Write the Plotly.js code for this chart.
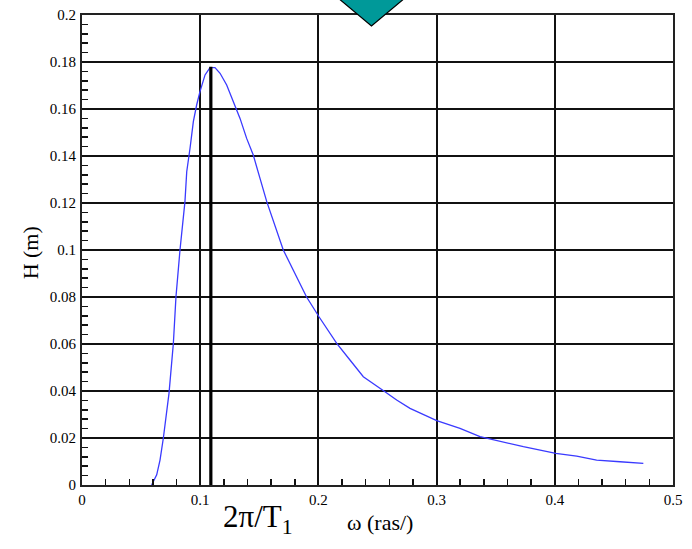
<!DOCTYPE html>
<html>
<head>
<meta charset="utf-8">
<script src="https://cdn.plot.ly/plotly-3.0.1.min.js"></script>
<style>
html,body{margin:0;padding:0;background:#fff;}
#chart{width:692px;height:549px;}
</style>
</head>
<body>
<div id="chart"></div>
<script>
// Spectrum curve H(omega)
const omega = [0.0589, 0.0632, 0.066, 0.0688, 0.0736, 0.0773, 0.0795, 0.0829, 0.0871, 0.0886,
  0.0914, 0.0942, 0.097, 0.0998, 0.1041, 0.1083, 0.1125, 0.1168, 0.1224, 0.128, 0.1337,
  0.1393, 0.1449, 0.1506, 0.1563, 0.1703, 0.1802, 0.19, 0.2005, 0.2155, 0.2267, 0.238,
  0.2563, 0.2662, 0.2775, 0.3001, 0.3198, 0.3367, 0.3734, 0.4008, 0.4185, 0.4354, 0.4552,
  0.4749];
const H = [0, 0.0043, 0.0106, 0.0199, 0.039, 0.0603, 0.0801, 0.1, 0.1206, 0.1333,
  0.1433, 0.1546, 0.1617, 0.1674, 0.1745, 0.1776, 0.1776, 0.1752, 0.1702, 0.1631, 0.156,
  0.1475, 0.1404, 0.1305, 0.1206, 0.1, 0.0901, 0.08, 0.0716, 0.0603, 0.0532, 0.0461,
  0.0397, 0.0362, 0.0326, 0.0274, 0.0241, 0.0206, 0.0163, 0.0135, 0.0123, 0.0106, 0.0099,
  0.0092];

// Peak marker line at 2*pi/T1
const peakX = [0.109, 0.109];
const peakY = [0, 0.178];

// Tick labels
const xTickVals = [0, 0.1, 0.2, 0.3, 0.4, 0.5];
const xTickText = ['0', '0.1', '0.2', '0.3', '0.4', '0.5'];
const yTickVals = [0, 0.02, 0.04, 0.06, 0.08, 0.1, 0.12, 0.14, 0.16, 0.18, 0.2];
const yTickText = ['0', '0.02', '0.04', '0.06', '0.08', '0.1', '0.12', '0.14', '0.16', '0.18', '0.2'];

const serif = '"Liberation Serif", "Times New Roman", serif';

const traces = [
  {
    x: omega, y: H, type: 'scatter', mode: 'lines',
    line: {color: '#3a3aff', width: 1.3, shape: 'linear'},
    hoverinfo: 'skip', showlegend: false
  },
  {
    x: peakX, y: peakY, type: 'scatter', mode: 'lines',
    line: {color: '#000', width: 3.2},
    hoverinfo: 'skip', showlegend: false
  }
];

const layout = {
  width: 692, height: 549,
  margin: {l: 82, r: 19, t: 15, b: 64},
  paper_bgcolor: '#fff', plot_bgcolor: '#fff',
  showlegend: false,
  font: {family: serif, size: 15, color: '#000'},
  xaxis: {
    range: [0, 0.5], tickmode: 'array', tickvals: xTickVals, ticktext: xTickText,
    showgrid: true, gridcolor: '#111', gridwidth: 2,
    zeroline: false, showline: true, linecolor: '#222', linewidth: 2, mirror: true,
    ticks: 'inside', ticklen: 6, tickcolor: '#111', tickwidth: 1.5,
    minor: {dtick: 0.02, tick0: 0, ticks: 'inside', ticklen: 6, tickcolor: '#111', tickwidth: 1.5, showgrid: false},
    tickfont: {family: serif, size: 15, color: '#000'},
    ticklabelstandoff: 0
  },
  yaxis: {
    range: [0, 0.2], tickmode: 'array', tickvals: yTickVals, ticktext: yTickText,
    showgrid: true, gridcolor: '#111', gridwidth: 2,
    zeroline: false, showline: true, linecolor: '#222', linewidth: 2, mirror: true,
    ticks: 'inside', ticklen: 6, tickcolor: '#111', tickwidth: 1.5,
    minor: {dtick: 0.004, tick0: 0, ticks: 'inside', ticklen: 6, tickcolor: '#111', tickwidth: 1.5, showgrid: false},
    tickfont: {family: serif, size: 15, color: '#000'},
    ticklabelstandoff: 1
  },
  annotations: [
    {
      text: 'H (m)', xref: 'paper', yref: 'paper', x: -0.088, y: 0.495,
      xanchor: 'center', yanchor: 'middle', textangle: -90, showarrow: false,
      font: {family: serif, size: 22, color: '#000'}
    },
    {
      text: '2π/T<sub>1</sub>', xref: 'paper', yref: 'paper', x: 0.297, y: -0.072,
      xanchor: 'center', yanchor: 'middle', showarrow: false,
      font: {family: serif, size: 31, color: '#000'}
    },
    {
      text: 'ω (ras/)', xref: 'paper', yref: 'paper', x: 0.505, y: -0.08,
      xanchor: 'center', yanchor: 'middle', showarrow: false,
      font: {family: serif, size: 22, color: '#000'}
    }
  ],
  shapes: [
    {
      type: 'path', xref: 'paper', yref: 'paper', layer: 'above',
      path: 'M 0.4272 1.0426 L 0.4898 0.9766 L 0.5525 1.0426 L 0.4898 1.1085 Z',
      fillcolor: '#009999', line: {color: '#000', width: 1.2}
    }
  ]
};

Plotly.newPlot('chart', traces, layout, {displayModeBar: false, staticPlot: true});
</script>
</body>
</html>
